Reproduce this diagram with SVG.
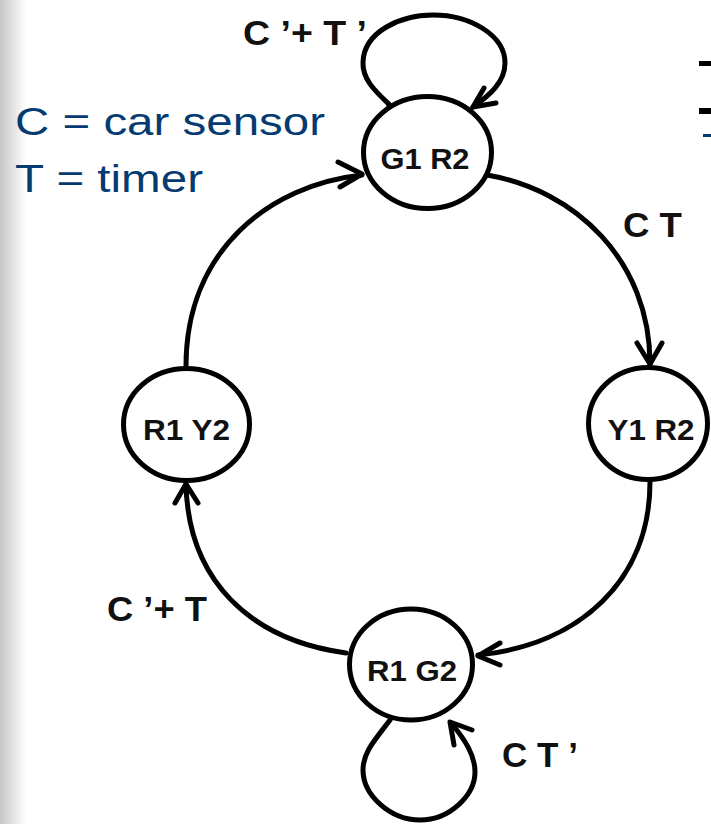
<svg xmlns="http://www.w3.org/2000/svg" width="711" height="824" viewBox="0 0 711 824">
<defs>
<linearGradient id="edge" x1="0" y1="0" x2="1" y2="0">
<stop offset="0" stop-color="#c6c6c6"/>
<stop offset="1" stop-color="#ffffff"/>
</linearGradient>
<style>
.node{fill:#fff;stroke:#000;stroke-width:5}
.nl{font-family:"Liberation Sans",Arial,sans-serif;font-weight:bold;font-size:29px;fill:#111;text-anchor:middle}
.el{font-family:"Liberation Sans",Arial,sans-serif;font-weight:bold;font-size:35px;fill:#111}
.leg{font-family:"Liberation Sans",Arial,sans-serif;font-size:38px;fill:#053b70}
.c{fill:none;stroke:#000;stroke-width:5;stroke-linecap:round;stroke-linejoin:round}
</style>
</defs>
<rect x="0" y="0" width="711" height="824" fill="#fff"/>
<rect x="0" y="0" width="26" height="824" fill="url(#edge)"/>
<rect x="699" y="61" width="12" height="5" fill="#000"/>
<rect x="699" y="108" width="12" height="6" fill="#000"/>
<rect x="703" y="134" width="8" height="3" fill="#053b70"/>

<g id="legend">
<text class="leg" x="15" y="135" textLength="310" lengthAdjust="spacingAndGlyphs">C = car sensor</text>
<text class="leg" x="15" y="192" textLength="188" lengthAdjust="spacingAndGlyphs">T = timer</text>
</g>

<g id="connectors">
<path class="c" d="M487,175 C575,190 650,260 650,364"/>
<polyline class="c" points="637,343 650,364 662,343"/>
<path class="c" d="M650,482 C650,580 580,645 478,655"/>
<polyline class="c" points="500,643 478,656 500,665"/>
<path class="c" d="M346,653 C250,640 188,580 186,484"/>
<polyline class="c" points="175,503 186,484 198,503"/>
<path class="c" d="M186,366 C186,250 270,185 362,175"/>
<polyline class="c" points="338,162 362,174 340,187"/>
<path class="c" d="M395,110 C380,95 362,82 363,62 C364,32 400,15 433,15 C470,15 505,35 505,63 C505,82 490,95 473,107"/>
<line class="c" x1="389" y1="106" x2="399" y2="113"/>
<polyline class="c" points="484,88 473,107 496,103"/>
<path class="c" d="M390,720 C375,740 363,752 363,770 C363,795 390,820 420,820 C450,820 475,795 475,772 C475,755 465,740 452,724"/>
<polyline class="c" points="454,745 450,722 472,730"/>
<text class="el" x="243" y="45" font-size="30" textLength="124" lengthAdjust="spacingAndGlyphs">C ’+ T ’</text>
<text class="el" x="623" y="237" textLength="59" lengthAdjust="spacingAndGlyphs">C T</text>
<text class="el" x="107" y="621" textLength="100" lengthAdjust="spacingAndGlyphs">C ’+ T</text>
<text class="el" x="502" y="767" textLength="76" lengthAdjust="spacingAndGlyphs">C T ’</text>
</g>

<g id="G1R2">
<ellipse class="node" cx="427.5" cy="152.5" rx="64" ry="56"/>
<text class="nl" x="425" y="169" textLength="89" lengthAdjust="spacingAndGlyphs">G1 R2</text>
</g>
<g id="Y1R2">
<ellipse class="node" cx="648" cy="423.5" rx="59.5" ry="56"/>
<text class="nl" x="651" y="440" textLength="87" lengthAdjust="spacingAndGlyphs">Y1 R2</text>
</g>
<g id="R1Y2">
<ellipse class="node" cx="186.5" cy="424.5" rx="63" ry="56"/>
<text class="nl" x="186.5" y="440" textLength="87" lengthAdjust="spacingAndGlyphs">R1 Y2</text>
</g>
<g id="R1G2">
<ellipse class="node" cx="411" cy="664.5" rx="61.5" ry="55.5"/>
<text class="nl" x="412" y="681" textLength="90" lengthAdjust="spacingAndGlyphs">R1 G2</text>
</g>
</svg>
